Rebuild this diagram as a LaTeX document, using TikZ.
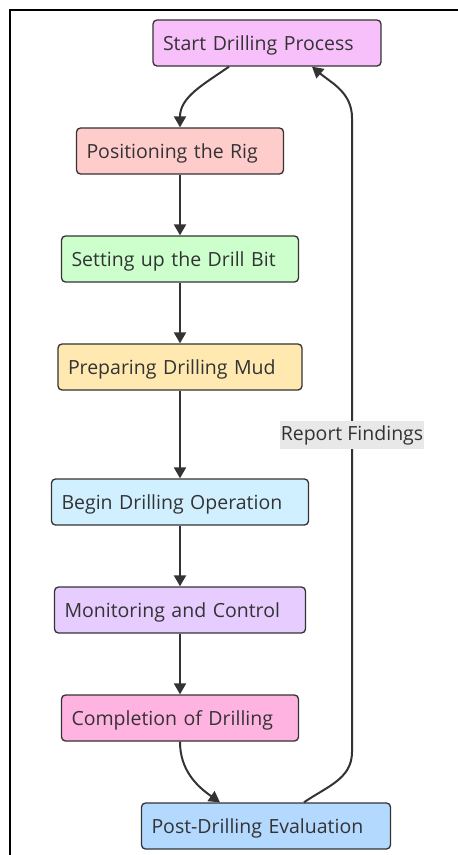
\documentclass[tikz,border=0pt]{standalone}
\usepackage{fontspec}
\setmainfont{Open Sans}
\usetikzlibrary{arrows.meta}
\definecolor{ink}{HTML}{333333}
\definecolor{cstart}{HTML}{F8C0FB}
\definecolor{crig}{HTML}{FFCCCC}
\definecolor{cbit}{HTML}{CCFFCC}
\definecolor{cmud}{HTML}{FFE9B0}
\definecolor{cdrill}{HTML}{D1F0FF}
\definecolor{cmonitor}{HTML}{E6CCFF}
\definecolor{ccomplete}{HTML}{FFB3E1}
\definecolor{cpost}{HTML}{B3D9FF}
\begin{document}
\begin{tikzpicture}[x=1pt,y=-1pt,
  stepbox/.style={draw=ink, line width=1.3pt, rounded corners=4pt, minimum height=46pt,
    inner xsep=10pt, inner ysep=0pt, text height=14pt, text depth=0pt,
    align=left, text=ink, font=\fontsize{19.5}{22}\selectfont},
  edge/.style={draw=ink, line width=2pt, -{Triangle[length=11pt,width=12pt]}},
  findings/.style={fill=black!9, text=ink, inner xsep=1pt, inner ysep=4pt, font=\fontsize{19.5}{22}\selectfont}]
  \useasboundingbox (0,0) rectangle (458,855);
  \draw[line width=2pt] (10,855) -- (10,10) -- (458,10);
  % the steps
  \node[stepbox, fill=cstart,    text width=208pt] (start)    at (267,43)  {Start Drilling Process};
  \node[stepbox, fill=crig,      text width=187pt] (rig)      at (180,151) {Positioning the Rig};
  \node[stepbox, fill=cbit,      text width=217pt] (bit)      at (180,259) {Setting up the Drill Bit};
  \node[stepbox, fill=cmud,      text width=224pt] (mud)      at (180,367) {Preparing Drilling Mud};
  \node[stepbox, fill=cdrill,    text width=237pt] (drill)    at (180,502) {Begin Drilling Operation};
  \node[stepbox, fill=cmonitor,  text width=231pt] (monitor)  at (180,610) {Monitoring and Control};
  \node[stepbox, fill=ccomplete, text width=217pt] (complete) at (180,718) {Completion of Drilling};
  \node[stepbox, fill=cpost,     text width=229pt] (post)     at (266,826) {Post-Drilling Evaluation};
  % connectors
  \draw[edge] ([xshift=-38pt]start.south) to[out=-145,in=90] (rig);
  \foreach \a/\b in {rig/bit, bit/mud, mud/drill, drill/monitor, monitor/complete}{
    \draw[edge] (\a) -- (\b);
  }
  \draw[edge] (complete) to[out=-90,in=145] ([xshift=-46pt]post.north);
  \coordinate (backlow) at (352,752);
  \coordinate (backhigh) at (352,118);
  \draw[edge] ([xshift=38pt]post.north) to[out=35,in=-90] (backlow)
    -- node[findings] {Report Findings} (backhigh)
    to[out=90,in=-40] ([xshift=45pt]start.south);
\end{tikzpicture}
\end{document}
